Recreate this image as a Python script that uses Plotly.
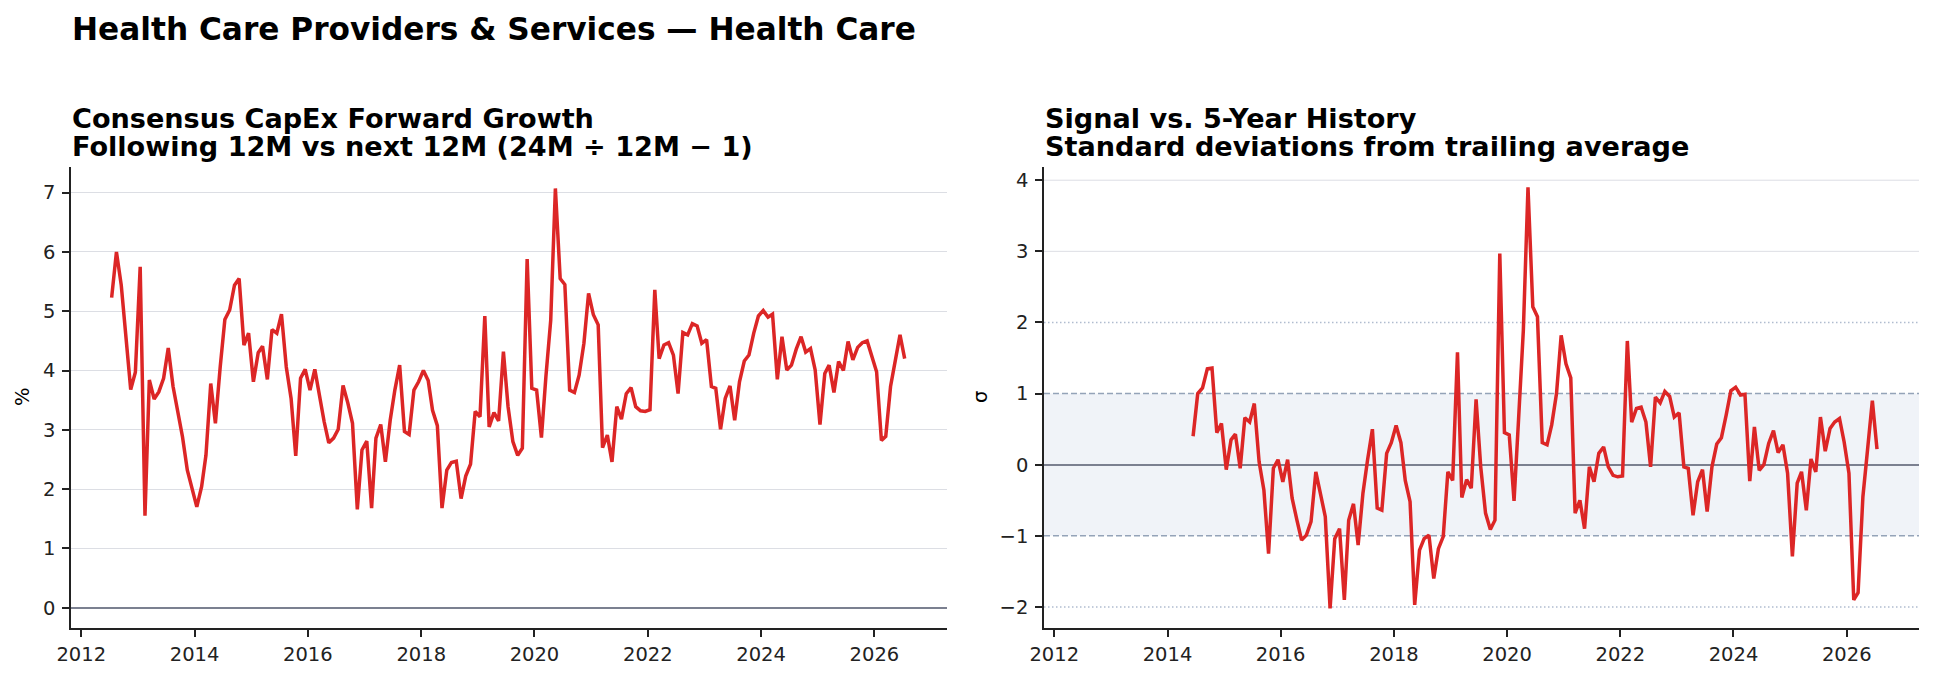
import pandas as pd
import plotly.graph_objects as go

# ---------------- data ----------------
growth_pct = [
    5.23, 6.00, 5.44, 4.51, 3.68, 3.97, 5.75, 1.55, 3.84, 3.52,
    3.64, 3.87, 4.38, 3.73, 3.28, 2.88, 2.32, 2.04, 1.70, 2.04,
    2.57, 3.78, 3.11, 4.06, 4.86, 5.02, 5.44, 5.55, 4.43, 4.63,
    3.81, 4.30, 4.41, 3.85, 4.69, 4.63, 4.95, 4.06, 3.53, 2.56,
    3.87, 4.02, 3.67, 4.02, 3.56, 3.14, 2.78, 2.86, 3.01, 3.75,
    3.45, 3.11, 1.66, 2.66, 2.81, 1.68, 2.86, 3.09, 2.46, 3.16,
    3.67, 4.09, 2.97, 2.92, 3.67, 3.81, 4.00, 3.83, 3.33, 3.07,
    1.68, 2.32, 2.45, 2.47, 1.84, 2.22, 2.42, 3.31, 3.22, 4.92,
    3.05, 3.29, 3.15, 4.32, 3.39, 2.80, 2.57, 2.69, 5.88, 3.70,
    3.67, 2.87, 3.90, 4.85, 7.07, 5.55, 5.45, 3.67, 3.63, 3.92,
    4.46, 5.30, 4.94, 4.77, 2.70, 2.91, 2.46, 3.39, 3.18, 3.61,
    3.71, 3.39, 3.32, 3.31, 3.34, 5.36, 4.20, 4.43, 4.47, 4.26,
    3.61, 4.64, 4.60, 4.79, 4.75, 4.46, 4.52, 3.73, 3.70, 3.01,
    3.53, 3.74, 3.16, 3.81, 4.16, 4.26, 4.63, 4.92, 5.01, 4.90,
    4.95, 3.85, 4.57, 4.01, 4.09, 4.36, 4.57, 4.31, 4.37, 4.01,
    3.09, 3.95, 4.09, 3.63, 4.15, 4.00, 4.49, 4.18, 4.39, 4.47,
    4.50, 4.24, 3.98, 2.82, 2.89, 3.73, 4.15, 4.60, 4.20,
]
zscore = [
    0.40, 1.00, 1.08, 1.35, 1.36, 0.45, 0.58, -0.07, 0.35, 0.43,
    -0.05, 0.66, 0.60, 0.86, 0.04, -0.36, -1.25, -0.05, 0.07, -0.24,
    0.07, -0.47, -0.78, -1.06, -0.99, -0.80, -0.10, -0.45, -0.73, -2.02,
    -1.04, -0.90, -1.90, -0.78, -0.55, -1.13, -0.40, 0.07, 0.50, -0.61,
    -0.64, 0.16, 0.31, 0.55, 0.31, -0.22, -0.52, -1.97, -1.20, -1.04,
    -0.99, -1.60, -1.18, -1.01, -0.10, -0.22, 1.58, -0.46, -0.21, -0.33,
    0.92, -0.03, -0.68, -0.91, -0.78, 2.97, 0.45, 0.42, -0.51, 0.63,
    1.89, 3.90, 2.22, 2.08, 0.31, 0.28, 0.56, 1.00, 1.82, 1.42,
    1.22, -0.68, -0.50, -0.90, -0.03, -0.24, 0.16, 0.25, -0.03, -0.15,
    -0.17, -0.16, 1.74, 0.60, 0.79, 0.81, 0.60, -0.03, 0.95, 0.87,
    1.03, 0.96, 0.67, 0.73, -0.03, -0.05, -0.71, -0.24, -0.07, -0.66,
    -0.03, 0.29, 0.38, 0.70, 1.04, 1.09, 0.98, 0.99, -0.23, 0.53,
    -0.08, 0.00, 0.30, 0.48, 0.17, 0.28, -0.12, -1.29, -0.26, -0.10,
    -0.64, 0.08, -0.10, 0.67, 0.19, 0.51, 0.60, 0.65, 0.32, -0.12,
    -1.90, -1.80, -0.45, 0.21, 0.90, 0.22,
]
growth_start = "2012-07-01"
zscore_start = "2014-06-01"

growth_dates = pd.date_range(growth_start, periods=len(growth_pct), freq="MS") + pd.Timedelta(days=14)
zscore_dates = pd.date_range(zscore_start, periods=len(zscore), freq="MS") + pd.Timedelta(days=14)

suptitle = "Health Care Providers & Services — Health Care"
left_title = ["Consensus CapEx Forward Growth", "Following 12M vs next 12M (24M ÷ 12M − 1)"]
right_title = ["Signal vs. 5-Year History", "Standard deviations from trailing average"]
left_ylabel = "%"
right_ylabel = "σ"
right_yticks = [-2, -1, 0, 1, 2, 3, 4]
band_sigma = 1
outer_sigma = 2

# ---------------- style ----------------
W, H = 1934, 679
FONT = "DejaVu Sans"
RED = "#dc2626"
AX = "#222222"
GRID = "#dcdee4"
ZERO = "#7b8090"

X_RANGE = ["2011-10-27", "2027-04-12"]
LDOM = [71 / W, 946.7 / W]
RDOM = [1044 / W, 1919 / W]
YDOM = [1 - 628.3 / H, 1 - 166.7 / H]

fig = go.Figure()
fig.add_trace(go.Scatter(x=growth_dates, y=growth_pct, mode="lines",
                         line=dict(color=RED, width=3.5), xaxis="x", yaxis="y",
                         showlegend=False))
fig.add_trace(go.Scatter(x=zscore_dates, y=zscore, mode="lines",
                         line=dict(color=RED, width=3.5), xaxis="x2", yaxis="y2",
                         showlegend=False))

tickfont = dict(family=FONT, size=19.5, color=AX)
xcommon = dict(type="date", range=X_RANGE, tick0="2012-01-01", dtick="M24",
               tickformat="%Y", showgrid=False, showline=True, linecolor=AX,
               linewidth=1.6, ticks="outside", ticklen=7, tickwidth=1.5,
               tickcolor=AX, tickfont=tickfont, zeroline=False, fixedrange=True,
               automargin=False)
ycommon = dict(gridcolor=GRID, gridwidth=1, showline=True,
               linecolor=AX, linewidth=1.6, ticks="outside", ticklen=7,
               tickwidth=1.5, tickcolor=AX, tickfont=tickfont, dtick=1,
               zeroline=True, zerolinecolor=ZERO, zerolinewidth=2,
               ticklabelstandoff=3, fixedrange=True, automargin=False)

fig.update_layout(
    width=W, height=H, autosize=False,
    margin=dict(l=0, r=0, t=0, b=0, autoexpand=False),
    paper_bgcolor="white", plot_bgcolor="white",
    font=dict(family=FONT, color="black"),
    xaxis=dict(domain=LDOM, anchor="y", **xcommon),
    yaxis=dict(domain=YDOM, anchor="x", range=[-0.347, 7.437], showgrid=True, **ycommon),
    xaxis2=dict(domain=RDOM, anchor="y2", **xcommon),
    yaxis2=dict(domain=YDOM, anchor="x2", range=[-2.30, 4.19], showgrid=False, **ycommon),
)

# band and reference lines on right panel (drawn beneath the data)
x0 = pd.Timestamp(X_RANGE[0])
x1 = pd.Timestamp(X_RANGE[1])
fig.add_shape(type="rect", xref="x2", yref="y2", x0=x0, x1=x1,
              y0=-band_sigma, y1=band_sigma,
              fillcolor="#f0f3f8", line=dict(width=0), layer="below")
for yv in right_yticks:
    if yv == 0:
        continue
    if abs(yv) == band_sigma:
        ln = dict(color="#94a3b8", width=1.5, dash="6px,3px")
    elif abs(yv) == outer_sigma:
        ln = dict(color="#b0bccf", width=1.4, dash="1.5px,2.5px")
    else:
        ln = dict(color=GRID, width=1)
    fig.add_shape(type="line", xref="x2", yref="y2", x0=x0, x1=x1, y0=yv, y1=yv,
                  line=ln, layer="below")

# titles
def ann(text, xpx, ypx, size, bold=True, angle=0, xanchor="left"):
    fig.add_annotation(text=f"<b>{text}</b>" if bold else text, xref="paper", yref="paper",
                       x=xpx / W, y=1 - ypx / H, xanchor=xanchor, yanchor="middle",
                       showarrow=False, textangle=angle,
                       font=dict(family=FONT, size=size, color="black"))

ann(suptitle, 70, 29, 31.2)
ann(left_title[0], 70, 118, 27.1)
ann(left_title[1], 70, 146, 27.1)
ann(right_title[0], 1043, 118, 27.1)
ann(right_title[1], 1043, 146, 27.1)
ann(left_ylabel, 22, 397, 19.5, bold=False, angle=-90, xanchor="center")
ann(right_ylabel, 980, 397, 19.5, bold=False, angle=-90, xanchor="center")

fig.write_html("out.html", config={"responsive": False, "displayModeBar": False})
